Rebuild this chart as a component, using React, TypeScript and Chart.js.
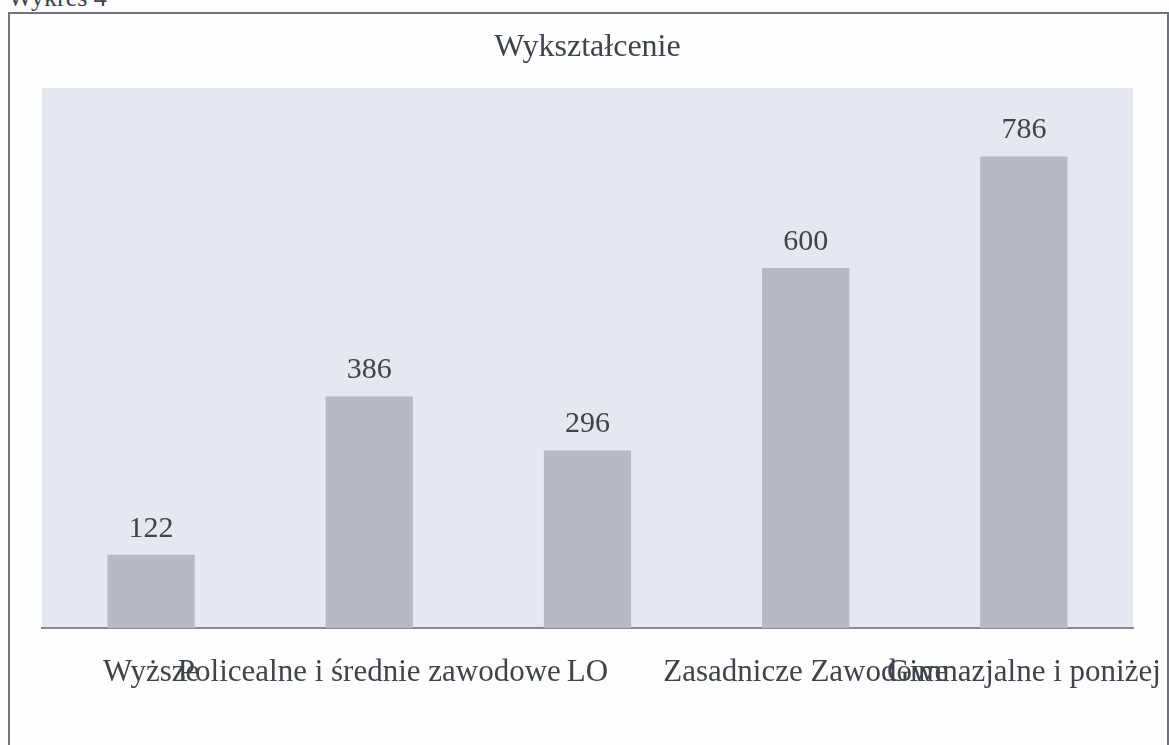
import React, { useEffect, useRef } from "react";
import { Chart, registerables } from "chart.js";

Chart.register(...registerables);

const categories = [
  "Wyższe",
  "Policealne i średnie zawodowe",
  "LO",
  "Zasadnicze Zawodowe",
  "Gimnazjalne i poniżej",
];
const values = [122, 386, 296, 600, 786];
const chartTitle = "Wykształcenie";
const pageCaption = "Wykres 4";

const FONT = '"Liberation Serif", "Times New Roman", serif';
const TEXT = "#3e434c";

const bgPlugin = {
  id: "plotBg",
  beforeDraw(chart: any) {
    const { ctx, chartArea } = chart;
    ctx.save();
    ctx.fillStyle = "#e5e8ee";
    ctx.fillRect(chartArea.left, chartArea.top, chartArea.right - chartArea.left, chartArea.bottom - chartArea.top);
    ctx.restore();
  },
};

const valueLabels = {
  id: "valueLabels",
  afterDatasetsDraw(chart: any) {
    const { ctx } = chart;
    const meta = chart.getDatasetMeta(0);
    const data = chart.data.datasets[0].data;
    ctx.save();
    ctx.font = `30px ${FONT}`;
    ctx.fillStyle = TEXT;
    ctx.textAlign = "center";
    ctx.textBaseline = "alphabetic";
    meta.data.forEach((bar: any, i: number) => {
      ctx.fillText(String(data[i]), bar.x, bar.y - 18);
    });
    ctx.restore();
  },
};

export default function App() {
  const ref = useRef<HTMLCanvasElement | null>(null);
  useEffect(() => {
    if (!ref.current) return;
    const chart = new Chart(ref.current, {
      type: "bar",
      data: {
        labels: categories,
        datasets: [
          {
            data: values,
            backgroundColor: "#b7bac0",
            borderWidth: 0,
            categoryPercentage: 1,
            barPercentage: 0.4,
          },
        ],
      },
      options: {
        animation: false,
        responsive: false,
        devicePixelRatio: 1,
        layout: { padding: { left: 42, right: 36, top: 0, bottom: 55 } },
        plugins: {
          legend: { display: false },
          tooltip: { enabled: false },
          title: {
            display: true,
            text: chartTitle,
            color: TEXT,
            font: { family: FONT, size: 32, weight: "normal" },
            padding: { top: 28, bottom: 21.6 },
          },
        },
        scales: {
          x: {
            grid: { display: false, drawTicks: false },
            border: { display: true, color: "#868a92", width: 2 },
            ticks: {
              autoSkip: false,
              maxRotation: 0,
              minRotation: 0,
              padding: 26,
              color: TEXT,
              font: { family: FONT, size: 31 },
            },
            afterFit(scale: any) {
              scale.paddingLeft = 0;
              scale.paddingRight = 0;
              scale.height = 62;
            },
          },
          y: {
            display: false,
            min: 0,
            max: 900,
          },
        },
      },
      plugins: [bgPlugin, valueLabels],
    });
    return () => chart.destroy();
  }, []);

  return (
    <div
      style={{
        position: "absolute",
        left: 0,
        top: 0,
        width: 1169,
        height: 745,
        overflow: "hidden",
        background: "#fdfdfd",
      }}
    >
      <div
        style={{
          position: "absolute",
          left: 8,
          top: -15,
          fontFamily: FONT,
          fontSize: 26,
          lineHeight: "26px",
          color: TEXT,
          whiteSpace: "nowrap",
        }}
      >
        {pageCaption}
      </div>
      <div
        style={{
          position: "absolute",
          left: 8,
          top: 12,
          width: 1161,
          height: 800,
          border: "2px solid #6f737b",
          boxSizing: "border-box",
        }}
      />
      <canvas
        ref={ref}
        width={1169}
        height={745}
        style={{ position: "absolute", left: 0, top: 0, display: "block", width: 1169, height: 745 }}
      />
    </div>
  );
}
